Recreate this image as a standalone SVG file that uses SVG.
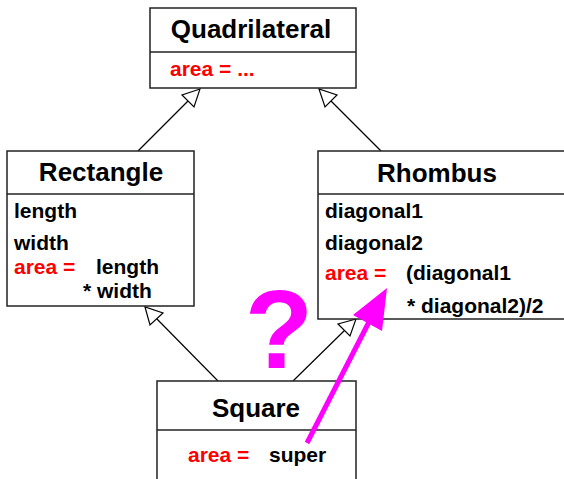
<svg xmlns="http://www.w3.org/2000/svg" width="564" height="479" viewBox="0 0 564 479">
<style>
.box{fill:#fff;stroke:#222;stroke-width:1.5}
.div{stroke:#222;stroke-width:1.5}
.title{font-family:"Liberation Sans",Arial,sans-serif;font-weight:bold;font-size:26px;fill:#000;text-anchor:middle}
.t{font-family:"Liberation Sans",Arial,sans-serif;font-weight:bold;font-size:21px;fill:#000}
.red{fill:#ff0000}
.conn{stroke:#000;stroke-width:1.2;fill:none}
.head{fill:#fff;stroke:#000;stroke-width:1.2}
</style>
<rect width="564" height="479" fill="#fff"/>
<g id="connectors">
<line class="conn" x1="138" y1="151" x2="189" y2="100"/>
<polygon class="head" points="200,89 182,95 194,107"/>
<line class="conn" x1="381" y1="151" x2="330" y2="100"/>
<polygon class="head" points="319,89 325,107 337,95"/>
<line class="conn" x1="218" y1="381" x2="155" y2="317"/>
<polygon class="head" points="145,307 150,325 163,313"/>
<line class="conn" x1="293" y1="381" x2="346" y2="329"/>
<polygon class="head" points="356,319 338,324 350,336"/>
</g>
<g id="quadrilateral">
<rect class="box" x="150" y="8" width="206" height="80"/>
<line class="div" x1="150" y1="52" x2="356" y2="52"/>
<text class="title" x="251" y="38">Quadrilateral</text>
<text class="t red" x="170" y="76">area = ...</text>
</g>
<g id="rectangle">
<rect class="box" x="7" y="151" width="187" height="155"/>
<line class="div" x1="7" y1="194" x2="194" y2="194"/>
<text class="title" x="101" y="181">Rectangle</text>
<text class="t" x="14" y="218">length</text>
<text class="t" x="14" y="250">width</text>
<text class="t red" x="14" y="274">area =</text>
<text class="t" x="96" y="274">length</text>
<text class="t" x="83" y="298">* width</text>
</g>
<g id="rhombus">
<rect class="box" x="318" y="151" width="254" height="168"/>
<line class="div" x1="318" y1="194" x2="572" y2="194"/>
<text class="title" x="437" y="182">Rhombus</text>
<text class="t" x="325" y="218">diagonal1</text>
<text class="t" x="325" y="250">diagonal2</text>
<text class="t red" x="325" y="280">area =</text>
<text class="t" x="406" y="280">(diagonal1</text>
<text class="t" x="407" y="313">* diagonal2)/2</text>
</g>
<g id="square">
<rect class="box" x="157" y="381" width="199" height="110"/>
<line class="div" x1="157" y1="430" x2="356" y2="430"/>
<text class="title" x="256" y="417">Square</text>
<text class="t red" x="188" y="462">area =</text>
<text class="t" x="269" y="462">super</text>
</g>
<g id="question">
<text x="279" y="368" font-family="Liberation Sans,Arial,sans-serif" font-weight="bold" font-size="112" fill="#ff00ff" text-anchor="middle">?</text>
</g>
<g id="super-arrow">
<line x1="307" y1="443" x2="370" y2="320" stroke="#ff00ff" stroke-width="5"/>
<polygon points="387,288 353,315 382,331" fill="#ff00ff"/>
</g>
</svg>
